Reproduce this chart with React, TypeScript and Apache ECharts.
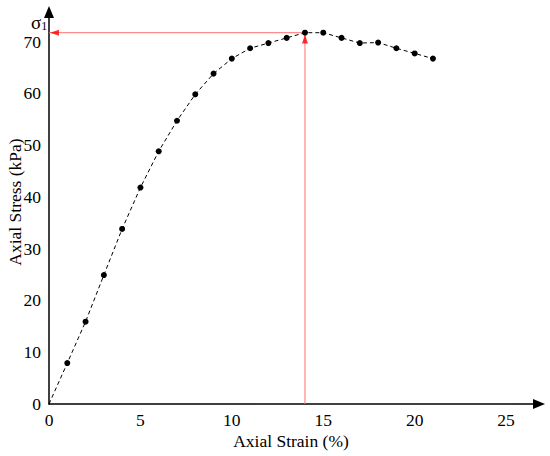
import React, { useEffect, useRef } from "react";
import * as echarts from "echarts";

const strain = [0, 1, 2, 3, 4, 5, 6, 7, 8, 9, 10, 11, 12, 13, 14, 15, 16, 17, 18, 19, 20, 21];
const stress = [0, 7.9, 15.9, 24.9, 33.8, 41.8, 48.8, 54.7, 59.8, 63.8, 66.7, 68.7, 69.7, 70.7, 71.7, 71.7, 70.7, 69.7, 69.8, 68.7, 67.7, 66.7];
const peakStrain = 14;
const peakStress = 71.7;
const xTitle = "Axial Strain (%)";
const yTitle = "Axial Stress (kPa)";

const FONT = "'Liberation Serif', 'Times New Roman', serif";
const FS = 17.5;

export default function App() {
  const ref = useRef<HTMLDivElement>(null);
  useEffect(() => {
    if (!ref.current) return;
    const chart = echarts.init(ref.current, undefined, { renderer: "svg" });
    const mainData = strain.map((x, i) =>
      i === 0 ? { value: [x, stress[i]], symbol: "none" } : { value: [x, stress[i]] }
    );
    chart.setOption({
      animation: false,
      backgroundColor: "#ffffff",
      grid: { left: 49, right: 11, top: 12, bottom: 52, containLabel: false },
      xAxis: {
        type: "value",
        min: 0,
        max: 26.8,
        interval: 5,
        axisLine: {
          show: true,
          symbol: ["none", "triangle"],
          symbolSize: [10, 12],
          lineStyle: { color: "#000", width: 1.5 },
        },
        axisTick: { show: false },
        splitLine: { show: false },
        axisLabel: {
          color: "#000",
          fontFamily: FONT,
          fontSize: FS,
          margin: 7,
          formatter: (v: number) => (v % 5 === 0 ? String(v) : ""),
        },
      },
      yAxis: {
        type: "value",
        min: 0,
        max: 75.7,
        interval: 10,
        axisLine: {
          show: true,
          symbol: ["none", "triangle"],
          symbolSize: [10, 12],
          lineStyle: { color: "#000", width: 1.5 },
        },
        axisTick: { show: false },
        splitLine: { show: false },
        axisLabel: {
          color: "#000",
          fontFamily: FONT,
          fontSize: FS,
          margin: 8,
          formatter: (v: number) => (v % 10 === 0 ? String(v) : ""),
        },
      },
      graphic: [
        {
          type: "text",
          x: 291,
          y: 441,
          style: {
            text: xTitle,
            fontFamily: FONT,
            fontSize: FS,
            fill: "#000",
            textAlign: "center",
            textVerticalAlign: "middle",
          },
        },
        {
          type: "text",
          x: 15,
          y: 202,
          rotation: Math.PI / 2,
          style: {
            text: yTitle,
            fontFamily: FONT,
            fontSize: FS,
            fill: "#000",
            textAlign: "center",
            textVerticalAlign: "middle",
          },
        },
        {
          type: "text",
          x: 31,
          y: 22,
          style: {
            text: "{a|σ}{b|1}",
            fill: "#000",
            textVerticalAlign: "middle",
            rich: {
              a: { fontFamily: FONT, fontSize: 19, fill: "#000" },
              b: { fontFamily: FONT, fontSize: 12, fill: "#000", padding: [8, 0, 0, 0] },
            },
          },
        },
      ],
      series: [
        {
          type: "line",
          data: [
            [peakStrain, 0],
            [peakStrain, peakStress],
          ],
          symbol: "none",
          lineStyle: { color: "#ff7070", width: 1 },
          z: 1,
        },
        {
          type: "line",
          data: [
            [peakStrain, peakStress],
            [0, peakStress],
          ],
          symbol: "none",
          lineStyle: { color: "#ff7070", width: 1 },
          z: 1,
        },
        {
          type: "scatter",
          data: [[peakStrain, peakStress - 1.2]],
          symbol: "triangle",
          symbolSize: [6, 9],
          itemStyle: { color: "#ff0000" },
          z: 2,
        },
        {
          type: "scatter",
          data: [[0.3, peakStress]],
          symbol: "triangle",
          symbolSize: [6, 9],
          symbolRotate: 90,
          itemStyle: { color: "#ff0000" },
          z: 2,
        },
        {
          type: "line",
          data: mainData,
          symbol: "circle",
          symbolSize: 6,
          showSymbol: true,
          itemStyle: { color: "#000", borderWidth: 0 },
          lineStyle: { color: "#000", width: 1, type: [4, 3] },
          z: 3,
        },
      ],
    });
    return () => chart.dispose();
  }, []);
  return (
    <div
      ref={ref}
      style={{ position: "fixed", left: 0, top: 0, width: 550, height: 456 }}
    />
  );
}
